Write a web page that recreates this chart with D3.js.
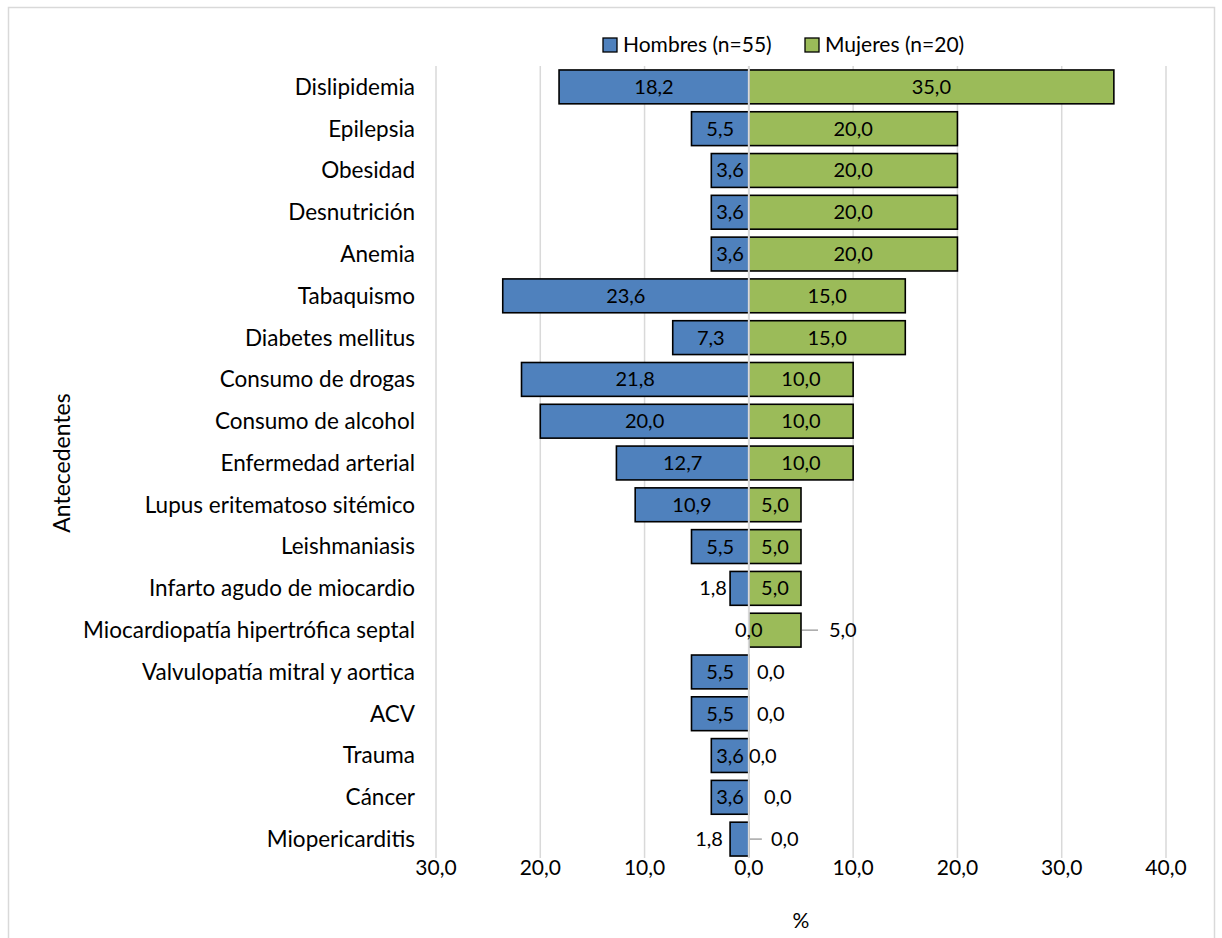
<!DOCTYPE html>
<html>
<head>
<meta charset="utf-8">
<script src="https://cdn.jsdelivr.net/npm/d3@7"></script>
<style>
  body { margin: 0; background: #fff; }
  text { font-family: Lato, "Open Sans", sans-serif; fill: #000; }
</style>
</head>
<body>
<div id="chart"></div>
<script>

// data
var categories = ["Dislipidemia", "Epilepsia", "Obesidad", "Desnutrición", "Anemia",
    "Tabaquismo", "Diabetes mellitus", "Consumo de drogas", "Consumo de alcohol",
    "Enfermedad arterial", "Lupus eritematoso sitémico", "Leishmaniasis",
    "Infarto agudo de miocardio", "Miocardiopatía hipertrófica septal",
    "Valvulopatía mitral y aortica", "ACV", "Trauma", "Cáncer", "Miopericarditis"];
var hombres = [18.2, 5.5, 3.6, 3.6, 3.6, 23.6, 7.3, 21.8, 20.0, 12.7, 10.9, 5.5, 1.8, 0.0, 5.5, 5.5, 3.6, 3.6, 1.8];
var mujeres = [35.0, 20.0, 20.0, 20.0, 20.0, 15.0, 15.0, 10.0, 10.0, 10.0, 5.0, 5.0, 5.0, 5.0, 0.0, 0.0, 0.0, 0.0, 0.0];
var seriesNames = ["Hombres (n=55)", "Mujeres (n=20)"];
var xTicks = [-30, -20, -10, 0, 10, 20, 30, 40];

var W = 1222, H = 938;
var margin = { top: 66, right: 56, bottom: 78, left: 436 };
var w = W - margin.left - margin.right;
var h = H - margin.top - margin.bottom;
var fmt = function (v) { return d3.format(".1f")(Math.abs(v)).replace(".", ","); };

var colors = ["#4f81bd", "#9bbb59"];

var svg = d3.select("#chart").append("svg")
    .attr("width", W)
    .attr("height", H);

// chart border
svg.append("rect")
    .attr("x", 8.5).attr("y", 7.5)
    .attr("width", 1206).attr("height", 940)
    .attr("fill", "none")
    .attr("stroke", "#d9d9d9")
    .attr("stroke-width", 1.5);

var g = svg.append("g")
    .attr("transform", "translate(" + margin.left + "," + margin.top + ")");

var x = d3.scaleLinear().domain([-30, 40]).range([0, w]);
var y = d3.scaleBand().domain(categories).range([0, h]).paddingInner(0.19).paddingOuter(0.095);

// grid
g.selectAll(".grid")
    .data(xTicks)
    .enter().append("line")
    .attr("class", "grid")
    .attr("x1", function (d) { return x(d); })
    .attr("x2", function (d) { return x(d); })
    .attr("y1", 0)
    .attr("y2", h - 2)
    .attr("stroke", "#d9d9d9")
    .attr("stroke-width", 1.5);

var rows = categories.map(function (c, i) { return { cat: c, h: hombres[i], m: mujeres[i] }; });

// hombres bars (to the left)
g.selectAll(".barH")
    .data(rows.filter(function (d) { return d.h > 0; }))
    .enter().append("rect")
    .attr("class", "barH")
    .attr("x", function (d) { return x(-d.h); })
    .attr("y", function (d) { return y(d.cat); })
    .attr("width", function (d) { return x(0) - x(-d.h); })
    .attr("height", y.bandwidth())
    .attr("fill", colors[0])
    .attr("stroke", "#000")
    .attr("stroke-width", 1.6);

// mujeres bars (to the right)
g.selectAll(".barM")
    .data(rows.filter(function (d) { return d.m > 0; }))
    .enter().append("rect")
    .attr("class", "barM")
    .attr("x", x(0))
    .attr("y", function (d) { return y(d.cat); })
    .attr("width", function (d) { return x(d.m) - x(0); })
    .attr("height", y.bandwidth())
    .attr("fill", colors[1])
    .attr("stroke", "#000")
    .attr("stroke-width", 1.6);

// zero line over the bars
g.append("line")
    .attr("x1", x(0)).attr("x2", x(0))
    .attr("y1", 0).attr("y2", h - 2)
    .attr("stroke", "#d9d9d9")
    .attr("stroke-width", 2);

// labels that were moved by hand (pixels from the default spot)
var nudgeM = { "Miocardiopatía hipertrófica septal": 72, "Valvulopatía mitral y aortica": 0,
    "ACV": 0, "Trauma": -8, "Cáncer": 7, "Miopericarditis": 14 };
var nudgeH = { "Miopericarditis": -4 };
var leaderM = { "Miocardiopatía hipertrófica septal": [1, 17], "Miopericarditis": [1, 13] };

var cy = function (d) { return y(d.cat) + y.bandwidth() / 2; };

// hombres labels
g.selectAll(".labH")
    .data(rows)
    .enter().append("text")
    .attr("class", "labH")
    .attr("x", function (d) {
        var bw = x(0) - x(-d.h);
        if (d.h === 0) return x(0);
        return bw > 34 ? (x(-d.h) + x(0)) / 2 : x(-d.h) - 17 + (nudgeH[d.cat] || 0);
    })
    .attr("y", cy)
    .attr("dy", "0.35em")
    .attr("text-anchor", "middle")
    .style("font-size", "20px")
    .text(function (d) { return fmt(d.h); });

// mujeres labels
g.selectAll(".labM")
    .data(rows)
    .enter().append("text")
    .attr("class", "labM")
    .attr("x", function (d) {
        if (nudgeM[d.cat] !== undefined) return x(0) + 22 + nudgeM[d.cat];
        return (x(0) + x(d.m)) / 2;
    })
    .attr("y", cy)
    .attr("dy", "0.35em")
    .attr("text-anchor", "middle")
    .style("font-size", "20px")
    .text(function (d) { return fmt(d.m); });

// leader lines
g.selectAll(".leader")
    .data(rows.filter(function (d) { return leaderM[d.cat]; }))
    .enter().append("line")
    .attr("class", "leader")
    .attr("x1", function (d) { return x(d.m) + leaderM[d.cat][0]; })
    .attr("x2", function (d) { return x(d.m) + leaderM[d.cat][1]; })
    .attr("y1", cy).attr("y2", cy)
    .attr("stroke", "#a6a6a6")
    .attr("stroke-width", 1.5);

// category labels
g.selectAll(".cat")
    .data(categories)
    .enter().append("text")
    .attr("class", "cat")
    .attr("x", -21)
    .attr("y", function (d) { return y(d) + y.bandwidth() / 2; })
    .attr("dy", "0.35em")
    .attr("text-anchor", "end")
    .style("font-size", "22.5px")
    .text(function (d) { return d; });

// x tick labels
g.selectAll(".tick")
    .data(xTicks)
    .enter().append("text")
    .attr("class", "tick")
    .attr("x", function (d) { return x(d); })
    .attr("y", h + 8)
    .attr("dy", "0.35em")
    .attr("text-anchor", "middle")
    .style("font-size", "21px")
    .text(fmt);

// axis titles
g.append("text")
    .attr("x", w / 2)
    .attr("y", h + 61)
    .attr("dy", "0.35em")
    .attr("text-anchor", "middle")
    .style("font-size", "21px")
    .text("%");

svg.append("text")
    .attr("transform", "translate(62," + (margin.top + h / 2) + ") rotate(-90)")
    .attr("dy", "0.35em")
    .attr("text-anchor", "middle")
    .style("font-size", "23px")
    .text("Antecedentes");

// legend
var legend = svg.append("g").attr("transform", "translate(603,45)");
var lx = [0, 202];
seriesNames.forEach(function (s, i) {
    legend.append("rect")
        .attr("x", lx[i]).attr("y", -7)
        .attr("width", 14).attr("height", 14)
        .attr("fill", colors[i])
        .attr("stroke", "#000")
        .attr("stroke-width", 1.3);
    legend.append("text")
        .attr("x", lx[i] + 20)
        .attr("y", 0)
        .attr("dy", "0.35em")
        .style("font-size", "21px")
        .text(s);
});

</script>
</body>
</html>
